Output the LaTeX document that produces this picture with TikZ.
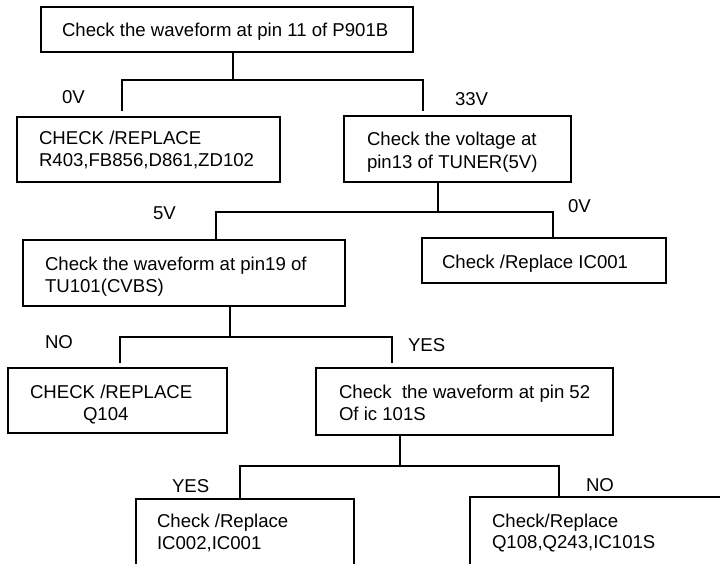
\documentclass[tikz,border=0pt]{standalone}
\usepackage{fontspec}
\setmainfont{Liberation Sans}
\begin{document}
\begin{tikzpicture}[x=1pt,y=-1pt,line width=2.6pt,
  box/.style={draw,line width=2.6pt,rectangle,anchor=north west,inner sep=0pt,outer sep=0pt},
  lbl/.style={anchor=base west,inner sep=0pt,outer sep=0pt,font=\fontsize{18.6}{22}\selectfont},
  conn/.style={draw,line width=2.6pt}]
\useasboundingbox (0,0) rectangle (720,564);
\clip (0,0) rectangle (720,564);
\fill[white] (0,0) rectangle (720,564);
% boxes
\node[box,minimum width=372pt,minimum height=45pt] (b1) at (41,7) {};
\node[box,minimum width=263pt,minimum height=65pt] (b2) at (17,117) {};
\node[box,minimum width=227pt,minimum height=66pt] (b3) at (344,116) {};
\node[box,minimum width=322pt,minimum height=66pt] (b4) at (23,240) {};
\node[box,minimum width=244pt,minimum height=45pt] (b5) at (422,238) {};
\node[box,minimum width=219pt,minimum height=65pt] (b6) at (8,368) {};
\node[box,minimum width=297pt,minimum height=67pt] (b7) at (316,368) {};
\node[box,minimum width=218pt,minimum height=101pt] (b8) at (136,499) {};
\node[box,minimum width=270pt,minimum height=103pt] (b9) at (470,497) {};
% texts
\node[lbl] (t1) at (62,37) {Check the waveform at pin 11 of P901B};
\node[lbl] (t2a) at (39,145) {CHECK /REPLACE};
\node[lbl] (t2b) at (39,167) {R403,FB856,D861,ZD102};
\node[lbl] (t3a) at (367,146) {Check the voltage at};
\node[lbl] (t3b) at (367,169) {pin13 of TUNER(5V)};
\node[lbl] (t4a) at (45,270) {Check the waveform at pin19 of};
\node[lbl] (t4b) at (45,292) {TU101(CVBS)};
\node[lbl] (t5) at (442,268) {Check /Replace IC001};
\node[lbl] (t6a) at (30,398) {CHECK /REPLACE};
\node[lbl] (t6b) at (83,420) {Q104};
\node[lbl] (t7a) at (339,398) {Check\ \ the waveform at pin 52};
\node[lbl] (t7b) at (339,420) {Of ic 101S};
\node[lbl] (t8a) at (157,527) {Check /Replace};
\node[lbl] (t8b) at (157,549) {IC002,IC001};
\node[lbl] (t9a) at (492,527) {Check/Replace};
\node[lbl] (t9b) at (492,548) {Q108,Q243,IC101S};
% branch labels
\node[lbl] (l1) at (62,104) {0V};
\node[lbl] (l2) at (455,106) {33V};
\node[lbl] (l3) at (153,220) {5V};
\node[lbl] (l4) at (568,213) {0V};
\node[lbl] (l5) at (45,348) {NO};
\node[lbl] (l6) at (408,351) {YES};
\node[lbl] (l7) at (172,492) {YES};
\node[lbl] (l8) at (586,491) {NO};
% junctions and free ends
\coordinate (j1) at (233,80);
\coordinate (e1l) at (122,111);
\coordinate (e1r) at (423,111);
\coordinate (j2) at (438,212);
\coordinate (e2l) at (216,240);
\coordinate (e2r) at (553,238);
\coordinate (j3) at (230,337);
\coordinate (e3l) at (120,363);
\coordinate (e3r) at (392,363);
\coordinate (j4) at (400,466);
\coordinate (e4l) at (240,499);
\coordinate (e4r) at (559,497);
% connectors
\draw[conn] (b1.south -| j1) -- (j1);
\draw[conn] (e1l) |- (j1) -| (e1r);
\draw[conn] (b3.south -| j2) -- (j2);
\draw[conn] (e2l) |- (j2) -| (e2r);
\draw[conn] (b4.south -| j3) -- (j3);
\draw[conn] (e3l) |- (j3) -| (e3r);
\draw[conn] (b7.south -| j4) -- (j4);
\draw[conn] (e4l) |- (j4) -| (e4r);
\end{tikzpicture}
\end{document}
